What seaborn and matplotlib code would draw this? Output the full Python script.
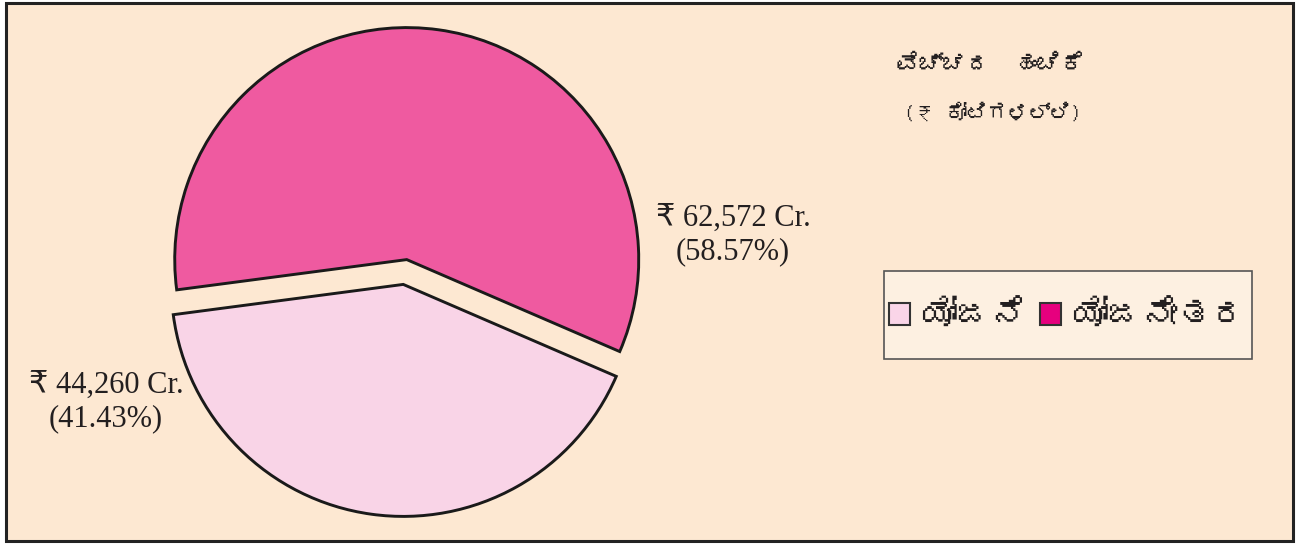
import matplotlib
matplotlib.use("Agg")
import matplotlib.pyplot as plt
from matplotlib import font_manager
from matplotlib.ft2font import FT2Font
from matplotlib.patches import Rectangle, Patch
import seaborn as sns

# data
labels = ["ಯೋಜನೆ", "ಯೋಜನೇತರ"]
values = [44260, 62572]
shares = [41.43, 58.57]
pie_colors = ["#f9d4e7", "#ef5aa0"]
legend_colors = ["#fad5e8", "#e6007e"]
title_1 = "ವೆಚ್ಚದ  ಹಂಚಿಕೆ"
title_2 = "(₹ ಕೋಟಿಗಳಲ್ಲಿ)"

sns.set_style("white")

# look for any installed font that has Kannada glyphs
kannada_font = None
for f in font_manager.fontManager.ttflist:
    try:
        if 0x0C95 in FT2Font(f.fname).get_charmap():
            kannada_font = f.name
            break
    except Exception:
        pass
kn_family = [kannada_font, "DejaVu Sans"] if kannada_font else ["DejaVu Sans"]
num_family = ["Liberation Serif", "DejaVu Sans"]

bg = "#fde8d2"
fig = plt.figure(figsize=(13, 5.44), dpi=100, facecolor="white")
W, H = 1300, 544

# outer frame
fig.patches.append(Rectangle((6 / W, 3 / H), 1287 / W, 538 / H, transform=fig.transFigure,
                             facecolor=bg, edgecolor="#222222", lw=2.2, zorder=-2))

ax = fig.add_axes([145 / W, 12 / H, 520 / W, 520 / H])
ax.set_facecolor("none")
wedges, _ = ax.pie(values, colors=pie_colors, startangle=187.5, counterclock=True,
                   explode=[0.054, 0.054], radius=1.0,
                   wedgeprops=dict(edgecolor="#1a1a1a", linewidth=2.1))
ax.set_xlim(-1.1207, 1.1207)
ax.set_ylim(-1.1207, 1.1207)
ax.set_aspect("equal")
ax.axis("off")

# value labels
fig.text(733 / W, 1 - 235 / H, f"₹ {values[1]:,} Cr.\n({shares[1]:.2f}%)", ha="center", va="center",
         fontsize=22, family=num_family, color="#231f20", linespacing=1.17)
fig.text(106 / W, 1 - 402 / H, f"₹ {values[0]:,} Cr.\n({shares[0]:.2f}%)", ha="center", va="center",
         fontsize=22, family=num_family, color="#231f20", linespacing=1.17)

# title
fig.text(990 / W, 1 - 64 / H, title_1, ha="center", va="center", fontsize=17,
         family=kn_family, color="#231f20")
fig.text(993 / W, 1 - 113 / H, title_2, ha="center", va="center", fontsize=15,
         family=kn_family, color="#231f20")

# legend box
fig.patches.append(Rectangle((884 / W, 1 - 359 / H), 368 / W, 88 / H, transform=fig.transFigure,
                             facecolor="#fdf0e1", edgecolor="#555555", lw=1.2, zorder=-1))
handles = [Patch(facecolor=c, edgecolor="#333333", lw=1.5) for c in legend_colors]
fig.legend(handles, labels, loc="center", bbox_to_anchor=(1068 / W, 1 - 315 / H), ncol=2,
           frameon=False, prop=dict(family=kn_family, size=25), handlelength=0.6, handleheight=0.6,
           handletextpad=0.35, columnspacing=0.4, labelcolor="#231f20")

fig.savefig("out.png", dpi=100, facecolor="white")
